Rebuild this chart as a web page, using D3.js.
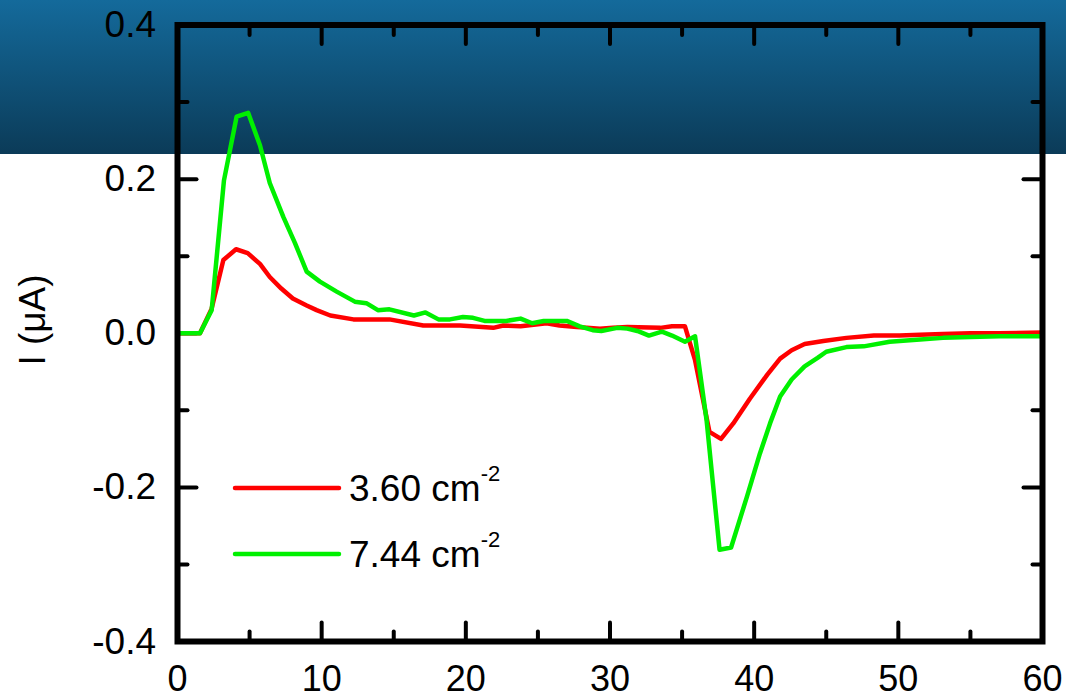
<!DOCTYPE html>
<html>
<head>
<meta charset="utf-8">
<script src="https://cdn.jsdelivr.net/npm/d3@7"></script>
<style>
  html, body { margin: 0; padding: 0; background: #fff; }
  svg { display: block; font-family: "Liberation Sans", Arial, sans-serif; }
</style>
</head>
<body>
<div id="chart"></div>
<script>
// values
var redX = [0, 1.56, 2.37, 3.18, 4.06, 4.87, 5.72, 6.4, 7.2, 8.0, 8.96, 9.65, 10.6, 12.2, 13.35, 14.7, 17.05, 19.6, 21.9, 22.6, 23.8, 25.6, 26.5, 27.7, 29.3, 30.2, 31.2, 33.5, 34.3, 35.2, 35.9, 36.9, 37.7, 38.55, 39.7, 40.9, 41.8, 42.6, 43.5, 44.8, 46.4, 48.3, 50.1, 51.5, 53.1, 55, 57, 60]
var redY = [0, 0, 0.032, 0.095, 0.109, 0.104, 0.090, 0.073, 0.058, 0.045, 0.036, 0.030, 0.023, 0.018, 0.018, 0.018, 0.010, 0.010, 0.007, 0.010, 0.009, 0.013, 0.010, 0.008, 0.006, 0.007, 0.008, 0.007, 0.009, 0.009, -0.035, -0.128, -0.137, -0.117, -0.085, -0.054, -0.033, -0.022, -0.014, -0.010, -0.006, -0.003, -0.003, -0.002, -0.001, 0, 0, 0.001]

var greenX = [0, 1.56, 2.37, 3.22, 4.1, 4.9, 5.72, 6.4, 7.34, 8.15, 8.96, 9.88, 11.04, 12.3, 13.1, 13.9, 14.7, 16.4, 17.2, 18.1, 18.9, 19.8, 20.5, 21.3, 22.8, 23.8, 24.6, 25.4, 27.0, 27.9, 28.8, 29.4, 30.5, 31.2, 31.9, 32.7, 33.6, 34.3, 35.2, 35.9, 36.7, 37.6, 38.4, 39.5, 40.4, 41.1, 41.8, 42.6, 43.5, 44.4, 45.0, 46.4, 47.6, 49.4, 51.5, 53.1, 55, 57, 60]
var greenY = [0, 0, 0.030, 0.198, 0.281, 0.286, 0.244, 0.195, 0.151, 0.117, 0.080, 0.067, 0.054, 0.041, 0.039, 0.030, 0.031, 0.023, 0.027, 0.018, 0.018, 0.021, 0.020, 0.016, 0.016, 0.019, 0.013, 0.016, 0.016, 0.009, 0.004, 0.003, 0.007, 0.006, 0.003, -0.003, 0.002, -0.003, -0.011, -0.004, -0.113, -0.281, -0.278, -0.212, -0.156, -0.117, -0.082, -0.060, -0.043, -0.032, -0.024, -0.018, -0.017, -0.011, -0.008, -0.006, -0.005, -0.004, -0.004]

var seriesNames = ["3.60 cm", "7.44 cm"]
var xMajor = [0, 10, 20, 30, 40, 50, 60]
var xMinor = [5, 15, 25, 35, 45, 55]
var yMajor = [-0.4, -0.2, 0.0, 0.2, 0.4]
var yMinor = [-0.3, -0.1, 0.1, 0.3]

var width = 1066, height = 698
var margin = {top: 25, right: 23.5, bottom: 56.5, left: 177.5}

var svg = d3.select("#chart")
  .append("svg")
  .attr("width", width)
  .attr("height", height)

// header band behind the plot
var defs = svg.append("defs")
var grad = defs.append("linearGradient")
  .attr("id", "band")
  .attr("x1", 0).attr("y1", 0).attr("x2", 0).attr("y2", 1)
grad.append("stop").attr("offset", "0%").attr("stop-color", "#146a9b")
grad.append("stop").attr("offset", "100%").attr("stop-color", "#0b3b58")

svg.append("rect")
  .attr("x", 0).attr("y", 0)
  .attr("width", width).attr("height", 154)
  .attr("fill", "url(#band)")

var x = d3.scaleLinear().domain([0, 60]).range([margin.left, width - margin.right])
var y = d3.scaleLinear().domain([-0.4, 0.4]).range([height - margin.bottom, margin.top])

var ticks = svg.append("g")
  .attr("stroke", "#000")
  .attr("stroke-width", 4)
  .attr("stroke-linecap", "round")

function drawTicks(vals, len) {
  vals.forEach(function (v) {
    ticks.append("line").attr("x1", x(v)).attr("x2", x(v)).attr("y1", y(-0.4)).attr("y2", y(-0.4) - len)
    ticks.append("line").attr("x1", x(v)).attr("x2", x(v)).attr("y1", y(0.4)).attr("y2", y(0.4) + len)
  })
}
function drawYTicks(vals, len) {
  vals.forEach(function (v) {
    ticks.append("line").attr("y1", y(v)).attr("y2", y(v)).attr("x1", x(0)).attr("x2", x(0) + len)
    ticks.append("line").attr("y1", y(v)).attr("y2", y(v)).attr("x1", x(60)).attr("x2", x(60) - len)
  })
}
drawTicks(xMajor, 19)
drawTicks(xMinor, 10)
drawYTicks(yMajor, 19)
drawYTicks(yMinor, 10)

// data lines
var line = d3.line()
  .x(function (d) { return x(d[0]) })
  .y(function (d) { return y(d[1]) })

var series = [
  {name: seriesNames[0], color: "#ff0000", pts: d3.zip(redX, redY)},
  {name: seriesNames[1], color: "#00f000", pts: d3.zip(greenX, greenY)}
]

svg.selectAll("path.series")
  .data(series)
  .join("path")
  .attr("class", "series")
  .attr("fill", "none")
  .attr("stroke", function (d) { return d.color })
  .attr("stroke-width", 4.5)
  .attr("stroke-linejoin", "round")
  .attr("d", function (d) { return line(d.pts) })

// frame
svg.append("rect")
  .attr("x", x(0)).attr("y", y(0.4))
  .attr("width", x(60) - x(0))
  .attr("height", y(-0.4) - y(0.4))
  .attr("fill", "none")
  .attr("stroke", "#000")
  .attr("stroke-width", 6)

// tick labels
svg.selectAll("text.xl")
  .data(xMajor)
  .join("text")
  .attr("class", "xl")
  .attr("x", function (d) { return x(d) })
  .attr("y", 691)
  .attr("text-anchor", "middle")
  .attr("font-size", 36)
  .text(function (d) { return d })

svg.selectAll("text.yl")
  .data(yMajor)
  .join("text")
  .attr("class", "yl")
  .attr("x", 156)
  .attr("y", function (d) { return y(d) + 12 })
  .attr("text-anchor", "end")
  .attr("font-size", 37)
  .text(function (d) { return d3.format(".1f")(d).replace("−", "-") })

svg.append("text")
  .attr("transform", "translate(45,320) rotate(-90)")
  .attr("text-anchor", "middle")
  .attr("font-size", 37)
  .text("I (\u03bcA)")

// legend
var legendY = [488, 554]
var legend = svg.selectAll("g.legend")
  .data(series)
  .join("g")
  .attr("class", "legend")
  .attr("transform", function (d, i) { return "translate(0," + legendY[i] + ")" })

legend.append("line")
  .attr("x1", 235).attr("x2", 339)
  .attr("stroke", function (d) { return d.color })
  .attr("stroke-width", 4.5)
  .attr("stroke-linecap", "round")

var lt = legend.append("text")
  .attr("x", 349)
  .attr("y", 13)
  .attr("font-size", 37)
lt.append("tspan").text(function (d) { return d.name })
lt.append("tspan")
  .attr("font-size", 22)
  .attr("dy", -20)
  .text("-2")
</script>
</body>
</html>
